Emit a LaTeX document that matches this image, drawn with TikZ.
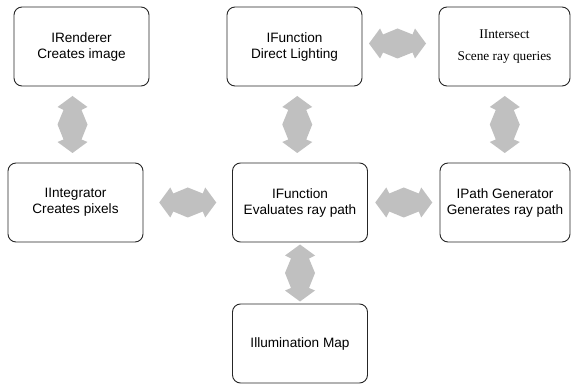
\documentclass[tikz,border=0pt]{standalone}
\usepackage{fontspec}
\setmainfont{Liberation Sans}
\newfontfamily\timesface{Liberation Serif}
\usetikzlibrary{calc}
\definecolor{arrowgray}{RGB}{192,192,192}

\tikzset{
    block/.style={draw=black!85, line width=0.9pt, rounded corners=8pt,
        minimum width=135pt, minimum height=79pt, align=center,
        font=\fontsize{13.6}{16}\selectfont},
    dblarrow/.pic={
        \fill[arrowgray] (0,-28.5) -- (15,-17.5) -- (9,-14.5) -- (15,0)
            -- (9,15) -- (15,17.5) -- (0,28.5) -- (-15,17.5) -- (-9,15)
            -- (-15,0) -- (-9,-14.5) -- (-15,-17.5) -- cycle;
    }
}

\begin{document}
\begin{tikzpicture}[x=1pt, y=-1pt]

    \useasboundingbox (0,0) rectangle (571,385);

    % Top row
    \node[block] (rend) at (81.5,46.5) {IRenderer\\Creates image};
    \node[block] (funcd) at (294.5,46.5) {IFunction\\Direct Lighting};
    \node[block, minimum width=131pt, font=\timesface\fontsize{13.3}{22}\selectfont] (inters) at (504.5,46.5) {IIntersect\\Scene ray queries};

    % Middle row
    \node[block] (integ) at (75.5,202.5) {IIntegrator\\Creates pixels};
    \node[block] (funce) at (300,202.5) {IFunction\\Evaluates ray path};
    \node[block, minimum width=130pt] (pathgen) at (505,202.5) {IPath Generator\\Generates ray path};

    % Bottom
    \node[block] (illum) at (300,343.5) {Illumination Map};

    % Arrows between boxes
    \pic[xshift=-6pt] at ($(rend.south)!0.5!(integ.north)$) {dblarrow};
    \pic at ($(funcd.south)!0.5!(funce.north)$) {dblarrow};
    \pic at ($(inters.south)!0.5!(pathgen.north)$) {dblarrow};
    \pic at ($(funce.south)!0.5!(illum.north)$) {dblarrow};
    \pic[rotate=90] at ($(integ.east)!0.5!(funce.west)$) {dblarrow};
    \pic[rotate=90] at ($(funcd.east)!0.5!(inters.west)+(-3,-3)$) {dblarrow};
    \pic[rotate=90] at ($(funce.east)!0.5!(pathgen.west)$) {dblarrow};

\end{tikzpicture}
\end{document}
